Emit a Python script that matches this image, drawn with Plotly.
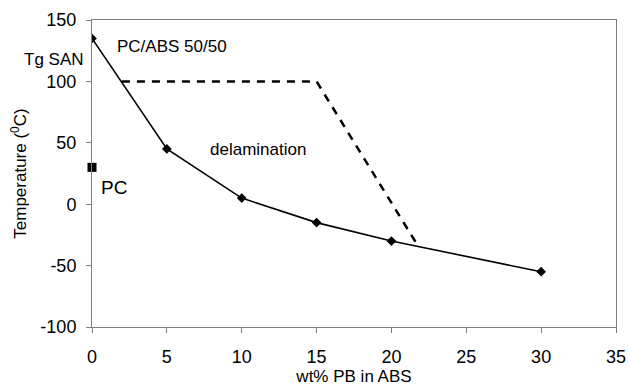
import plotly.graph_objects as go

# Data
pb_wt = [0, 5, 10, 15, 20, 30]
tg_temp = [135, 45, 5, -15, -30, -55]
pc_x = [0]
pc_y = [30]
delam_x = [2, 15, 21.8]
delam_y = [100, 100, -34.5]
x_ticks = [0, 5, 10, 15, 20, 25, 30, 35]
y_ticks = [-100, -50, 0, 50, 100, 150]
y_tick_labels = ["-100", "-50", "0", "50", "100", "150"]

FONT = "Liberation Sans, Arial, sans-serif"

fig = go.Figure()
fig.add_trace(go.Scatter(x=delam_x, y=delam_y, mode="lines",
                         line=dict(color="black", width=2.5, dash="8px,7px"),
                         showlegend=False, hoverinfo="skip"))
fig.add_trace(go.Scatter(x=pb_wt, y=tg_temp, mode="lines+markers",
                         line=dict(color="black", width=1.6),
                         marker=dict(symbol="diamond", size=7.5, color="black"),
                         showlegend=False))
fig.add_trace(go.Scatter(x=pc_x, y=pc_y, mode="markers",
                         marker=dict(symbol="square", size=9, color="black"),
                         showlegend=False, cliponaxis=False))

ann_font = dict(family=FONT, size=17, color="black")
fig.add_annotation(xref="paper", x=-0.0716, xanchor="center", y=118, text="Tg SAN",
                   showarrow=False, font=ann_font)
fig.add_annotation(x=5.31, y=128.5, xanchor="center", text="PC/ABS 50/50", showarrow=False, font=ann_font)
fig.add_annotation(x=11.09, y=44.7, xanchor="center", text="delamination", showarrow=False, font=ann_font)
fig.add_annotation(x=1.44, y=13.8, xanchor="center", text="PC", showarrow=False,
                   font=dict(family=FONT, size=19, color="black"))

axis_common = dict(showgrid=False, zeroline=False, showline=True, mirror=True,
                   linecolor="#808080", linewidth=1, ticks="outside", ticklen=5,
                   tickcolor="#808080", automargin=False,
                   tickfont=dict(family=FONT, size=18, color="black"))

fig.update_xaxes(range=[0, 35], tickvals=x_ticks, ticklabelstandoff=8,
                 title=dict(text="wt% PB in ABS", font=dict(family=FONT, size=17, color="black"),
                            standoff=2),
                 **axis_common)
fig.update_yaxes(range=[-100, 150], tickvals=y_ticks, ticktext=y_tick_labels,
                 ticklabelstandoff=6,
                 title=dict(text="Temperature (<sup>0</sup>C)",
                            font=dict(family=FONT, size=17, color="black"), standoff=9),
                 **axis_common)

fig.update_layout(width=629, height=386, margin=dict(l=92, r=13, t=20, b=58.5),
                  plot_bgcolor="white", paper_bgcolor="white",
                  font=dict(family=FONT))

fig.write_html("out.html")
